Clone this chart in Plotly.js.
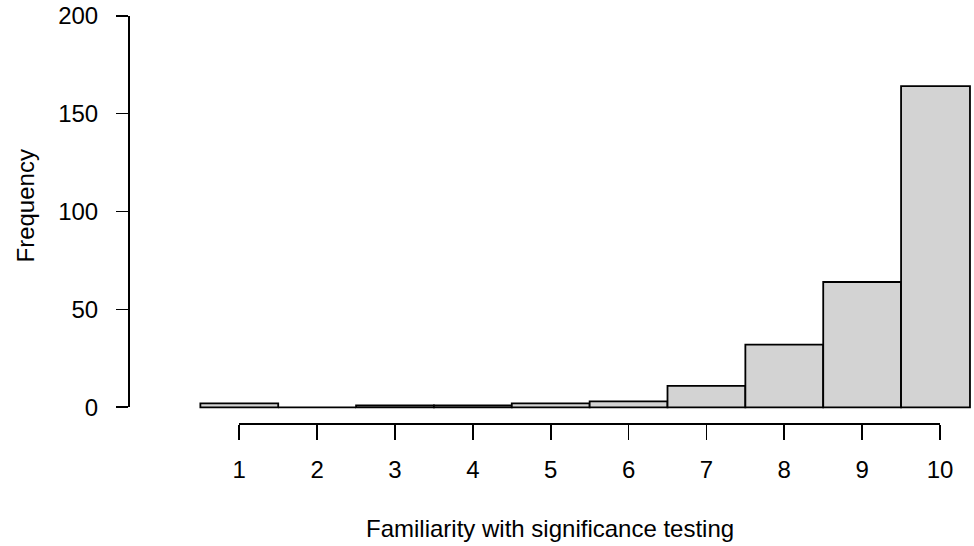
<!DOCTYPE html>
<html>
<head>
<meta charset="utf-8">
<script src="https://cdn.plot.ly/plotly-3.0.1.min.js"></script>
<style>
html,body{margin:0;padding:0;background:#ffffff;}
#chart{width:974px;height:546px;}
</style>
</head>
<body>
<div id="chart"></div>
<script>
// ---- data ----
const categories = [1, 2, 3, 4, 5, 6, 7, 8, 9, 10];
const frequencies = [2, 0, 1, 1, 2, 3, 11, 32, 64, 164];
const xTickLabels = ['1', '2', '3', '4', '5', '6', '7', '8', '9', '10'];
const yTickValues = [0, 50, 100, 150, 200];
const yTickLabels = ['0', '50', '100', '150', '200'];
const xTitle = 'Familiarity with significance testing';
const yTitle = 'Frequency';

// ---- geometry / style ----
const FONT = '"Liberation Sans", Arial, Helvetica, sans-serif';
const xRange = [-0.4295, 10.411];
const yRange = [-8, 208];
const fx = v => (v - xRange[0]) / (xRange[1] - xRange[0]);
const fy = v => (v - yRange[0]) / (yRange[1] - yRange[0]);
// last bar is cut at the right edge in the reference
const barWidths = categories.map((c, i) => i === categories.length - 1 ? 0.885 : 1);

const traces = [
  {
    type: 'bar',
    x: categories,
    y: frequencies,
    width: barWidths,
    offset: -0.5,
    marker: {color: '#d3d3d3', line: {color: '#000000', width: 1.8}},
    hoverinfo: 'x+y',
    xaxis: 'x',
    yaxis: 'y'
  },
  {
    type: 'scatter',
    x: [],
    y: [],
    xaxis: 'x2',
    yaxis: 'y2',
    hoverinfo: 'skip',
    showlegend: false
  }
];

const layout = {
  width: 974,
  height: 546,
  margin: {l: 128, r: 2, t: 0, b: 123},
  paper_bgcolor: '#ffffff',
  plot_bgcolor: 'rgba(0,0,0,0)',
  showlegend: false,
  bargap: 0,
  font: {family: FONT, size: 24, color: '#000000'},
  xaxis: {range: xRange, visible: false, fixedrange: true},
  yaxis: {range: yRange, visible: false, fixedrange: true},
  xaxis2: {
    domain: [fx(categories[0]), fx(categories[categories.length - 1])],
    range: [categories[0], categories[categories.length - 1]],
    anchor: 'free',
    position: 0,
    showline: true, linecolor: '#000000', linewidth: 1.8,
    ticks: 'outside', ticklen: 15, tickwidth: 1.8, tickcolor: '#000000',
    tickmode: 'array', tickvals: categories, ticktext: xTickLabels,
    ticklabelstandoff: 9,
    tickfont: {family: FONT, size: 24, color: '#000000'},
    showgrid: false, zeroline: false, fixedrange: true
  },
  yaxis2: {
    domain: [fy(yTickValues[0]), fy(yTickValues[yTickValues.length - 1])],
    range: [yTickValues[0], yTickValues[yTickValues.length - 1]],
    anchor: 'free',
    position: 0,
    showline: true, linecolor: '#000000', linewidth: 1.8,
    ticks: 'outside', ticklen: 12, tickwidth: 1.8, tickcolor: '#000000',
    tickmode: 'array', tickvals: yTickValues, ticktext: yTickLabels,
    ticklabelstandoff: 13,
    tickfont: {family: FONT, size: 24, color: '#000000'},
    showgrid: false, zeroline: false, fixedrange: true
  },
  annotations: [
    {
      text: xTitle, xref: 'paper', yref: 'paper', x: 0.5, y: 0,
      xanchor: 'center', yanchor: 'middle', yshift: -105, showarrow: false,
      font: {family: FONT, size: 24, color: '#000000'}
    },
    {
      text: yTitle, xref: 'paper', yref: 'paper', x: 0, y: fy(100),
      xanchor: 'center', yanchor: 'middle', xshift: -103, yshift: 5, textangle: -90,
      showarrow: false,
      font: {family: FONT, size: 24, color: '#000000'}
    }
  ]
};

Plotly.newPlot('chart', traces, layout, {displayModeBar: false, staticPlot: true});
</script>
</body>
</html>
